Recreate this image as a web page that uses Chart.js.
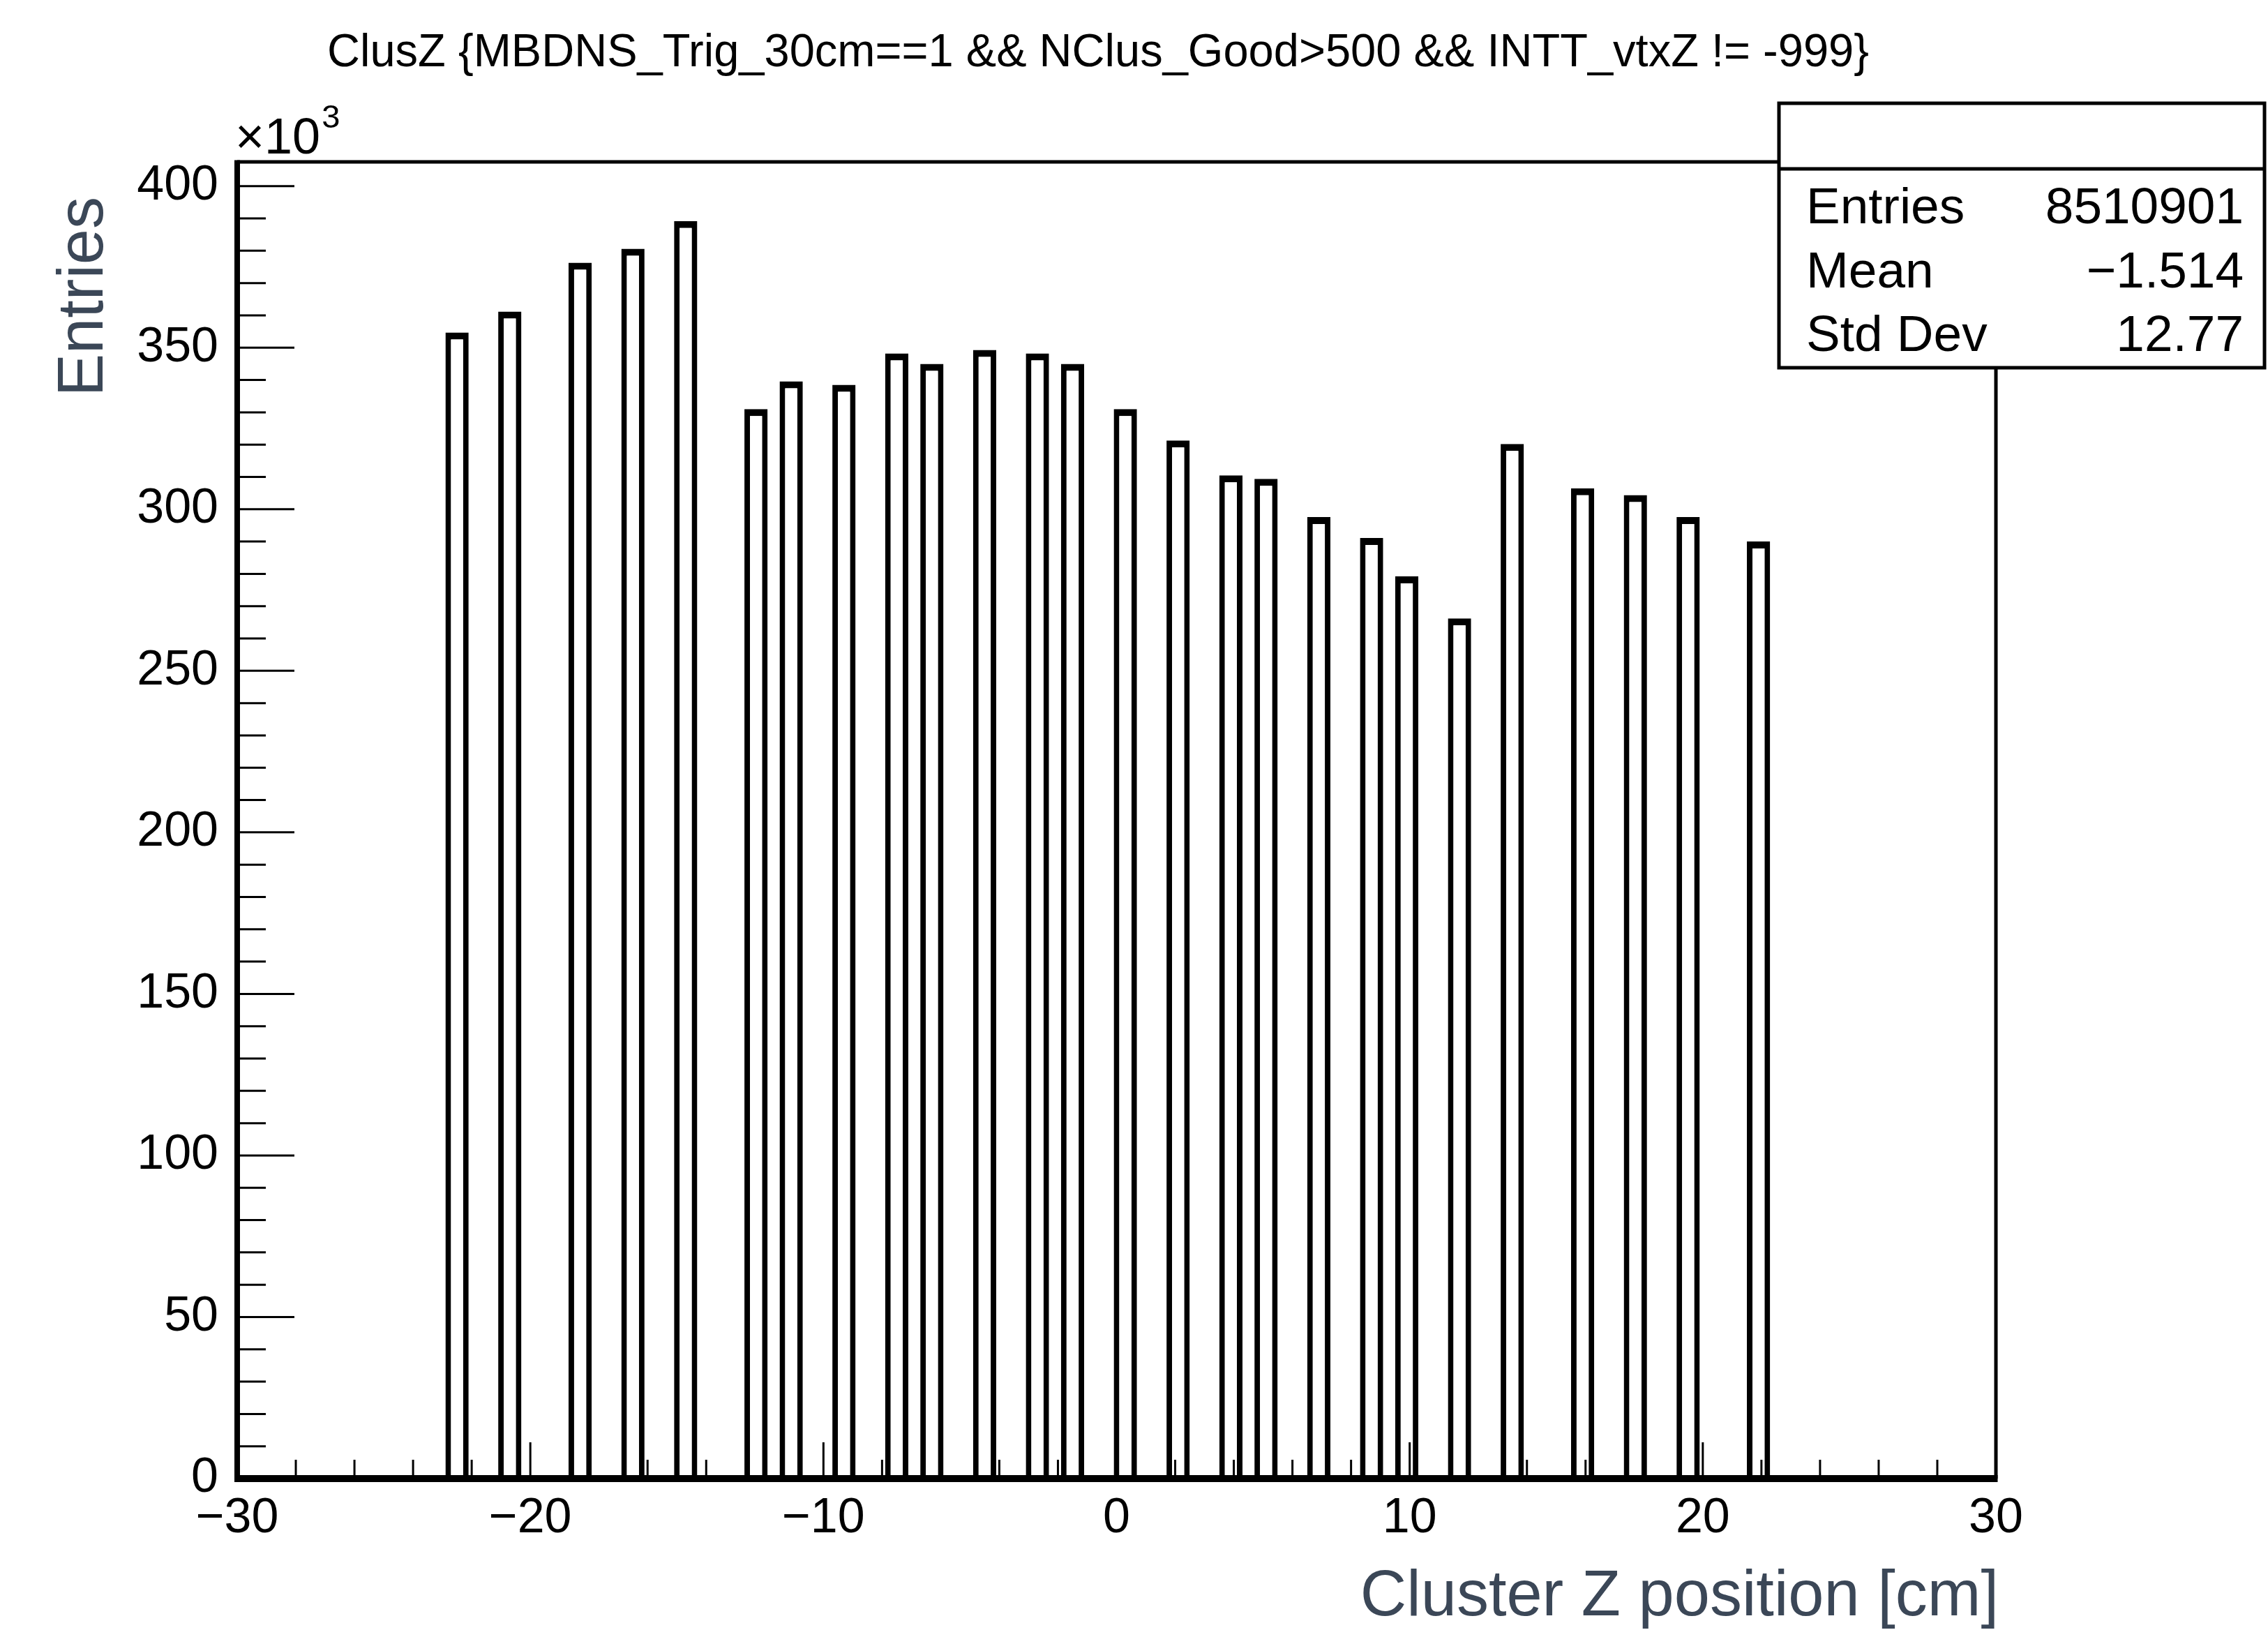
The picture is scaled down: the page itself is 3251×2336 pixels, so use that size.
<!DOCTYPE html>
<html>
<head>
<meta charset="utf-8">
<script src="https://cdn.jsdelivr.net/npm/chart.js@4.4.1/dist/chart.umd.min.js"></script>
<style>
  html, body { margin: 0; padding: 0; background: #fff; }
</style>
</head>
<body>
<canvas id="chart" width="3251" height="2336"></canvas>
<script>
// bin centres of the filled bins (cm), bin width 0.6
const zBins = [-22.5, -20.7, -18.3, -16.5, -14.7, -12.3, -11.1, -9.3, -7.5, -6.3, -4.5, -2.7, -1.5,
               0.3, 2.1, 3.9, 5.1, 6.9, 8.7, 9.9, 11.7, 13.5, 15.9, 17.7, 19.5, 21.9];
// entries per bin, in units of 10^3
const entriesK = [354.7, 361.2, 376.3, 380.6, 389.2, 331.0, 339.6, 338.5, 348.2, 345.0, 349.3, 348.2, 345.0,
                  331.0, 321.3, 310.5, 309.4, 297.6, 291.1, 279.2, 266.2, 320.2, 306.5, 304.4, 297.6, 290.0];

const xTickValues = [-30, -20, -10, 0, 10, 20, 30];
const yTickValues = [0, 50, 100, 150, 200, 250, 300, 350, 400];
const xMinorStep = 2;
const yMinorStep = 10;

const statLabels = ['Entries', 'Mean', 'Std Dev'];
const statValues = ['8510901', '\u22121.514', '12.77'];
const titleText = 'ClusZ {MBDNS_Trig_30cm==1 && NClus_Good>500 && INTT_vtxZ != -999}';
const xTitle = 'Cluster Z position [cm]';
const yTitle = 'Entries';

const FONT = '"Liberation Sans", Arial, Helvetica, sans-serif';
const AXIS_TITLE_COLOR = '#3b4757';

const fmt = v => (v < 0 ? '\u2212' + Math.abs(v) : String(v));

// ROOT style frame, inside ticks, stats box and texts
const rootDecor = {
    id: 'rootDecor',
    afterDatasetsDraw(chart) {
        const { ctx, chartArea: a, scales: { x, y } } = chart;
        ctx.save();
        ctx.strokeStyle = '#000';
        ctx.lineCap = 'butt';
        const seg = (x1, y1, x2, y2) => { ctx.beginPath(); ctx.moveTo(x1, y1); ctx.lineTo(x2, y2); ctx.stroke(); };

        // ticks on y (inside)
        ctx.lineWidth = 3;
        for (let i = 0; i * yMinorStep <= y.max; i++) {
            const v = i * yMinorStep;
            const py = y.getPixelForValue(v);
            seg(a.left, py, a.left + (v % 50 === 0 ? 82 : 41), py);
        }
        // ticks on x (inside)
        for (let i = 0; x.min + i * xMinorStep <= x.max; i++) {
            const v = x.min + i * xMinorStep;
            const px = x.getPixelForValue(v);
            seg(px, a.bottom, px, a.bottom - (v % 10 === 0 ? 52 : 27));
        }

        // frame
        ctx.lineWidth = 5;
        seg(a.left, a.top, a.right + 2.5, a.top);
        seg(a.right, a.top, a.right, a.bottom);
        ctx.lineWidth = 8;
        seg(a.left, a.top - 2.5, a.left, a.bottom + 5);
        ctx.lineWidth = 10;
        seg(a.left - 4, a.bottom, a.right + 2.5, a.bottom);
        ctx.restore();
    },
    afterDraw(chart) {
        const { ctx, chartArea: a } = chart;
        ctx.save();

        // stats box
        const bx = 2550, by = 148, bw = 696, bh = 379;
        ctx.fillStyle = '#fff';
        ctx.fillRect(bx, by, bw, bh);
        ctx.strokeStyle = '#000';
        ctx.lineWidth = 5;
        ctx.strokeRect(bx, by, bw, bh);
        ctx.beginPath(); ctx.moveTo(bx, 242); ctx.lineTo(bx + bw, 242); ctx.stroke();
        ctx.fillStyle = '#000';
        ctx.font = '73px ' + FONT;
        ctx.textBaseline = 'alphabetic';
        statLabels.forEach((lab, i) => {
            const base = 320 + i * 91.5;
            ctx.textAlign = 'left';
            ctx.fillText(lab, 2589, base);
            ctx.textAlign = 'right';
            ctx.fillText(statValues[i], 3216, base);
        });

        // title (narrow)
        ctx.font = '67px ' + FONT;
        ctx.textAlign = 'center';
        const tw = ctx.measureText(titleText).width;
        ctx.save();
        ctx.translate(1574, 95);
        ctx.scale(2210 / tw, 1);
        ctx.fillText(titleText, 0, 0);
        ctx.restore();

        // x10^3 multiplier
        ctx.textAlign = 'left';
        ctx.font = '72px ' + FONT;
        ctx.fillText('\u00d710', 337, 220);
        const mw = ctx.measureText('\u00d710').width;
        ctx.font = '47px ' + FONT;
        ctx.fillText('3', 337 + mw + 2, 183);

        // axis titles
        ctx.fillStyle = AXIS_TITLE_COLOR;
        ctx.font = '92px ' + FONT;
        ctx.textAlign = 'right';
        ctx.fillText(xTitle, a.right + 4, 2315);
        ctx.save();
        ctx.translate(147, 282);
        ctx.rotate(-Math.PI / 2);
        ctx.textAlign = 'right';
        ctx.fillText(yTitle, 0, 0);
        ctx.restore();

        ctx.restore();
    }
};

new Chart(document.getElementById('chart'), {
    type: 'bar',
    data: {
        datasets: [{
            data: zBins.map((z, i) => ({ x: z, y: entriesK[i] })),
            backgroundColor: '#fff',
            borderColor: '#000',
            borderWidth: { top: 10, left: 8, right: 8, bottom: 0 },
            borderSkipped: 'start',
            categoryPercentage: 1,
            barPercentage: 0.66
        }]
    },
    options: {
        responsive: false,
        devicePixelRatio: 1,
        animation: false,
        layout: { padding: { top: 232, right: 390, left: 0, bottom: 0 } },
        plugins: {
            legend: { display: false },
            tooltip: { enabled: false },
            title: { display: false }
        },
        scales: {
            x: {
                type: 'linear',
                min: -30,
                max: 30,
                offset: false,
                grid: { display: false, drawTicks: false, offset: false },
                border: { display: false },
                afterFit(s) { s.height = 217; },
                afterBuildTicks(s) { s.ticks = xTickValues.map(v => ({ value: v })); },
                ticks: {
                    padding: 16,
                    autoSkip: false,
                    maxRotation: 0,
                    color: '#000',
                    font: { family: FONT, size: 70 },
                    callback: v => fmt(v)
                }
            },
            y: {
                min: 0,
                max: 407.5,
                grid: { display: false, drawTicks: false },
                border: { display: false },
                afterFit(s) { s.width = 340; },
                afterBuildTicks(s) { s.ticks = yTickValues.map(v => ({ value: v })); },
                ticks: {
                    padding: 27,
                    color: '#000',
                    font: { family: FONT, size: 70 },
                    callback: v => fmt(v)
                }
            }
        }
    },
    plugins: [rootDecor]
});
</script>
</body>
</html>
